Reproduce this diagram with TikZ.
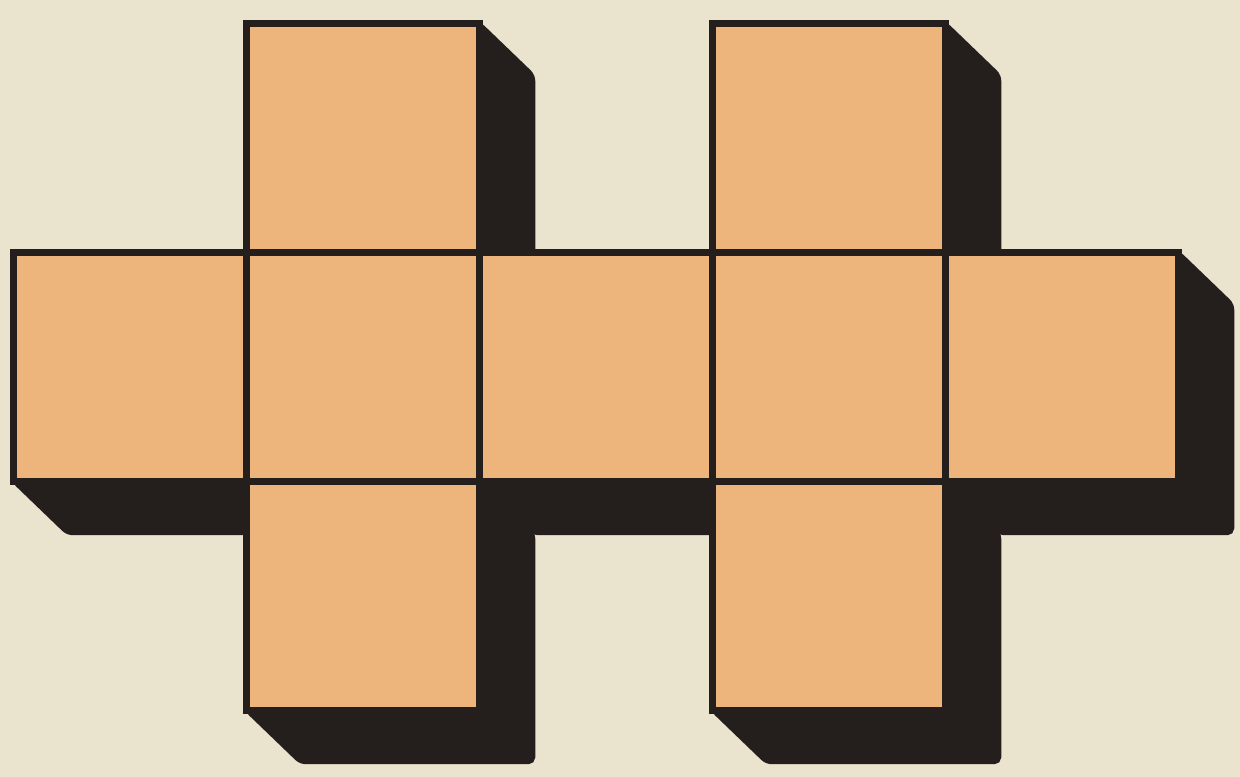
\documentclass[tikz,border=0pt]{standalone}
\usetikzlibrary{positioning,backgrounds}

\definecolor{paper}{RGB}{234,227,206}
\definecolor{card}{RGB}{237,181,124}
\definecolor{ink}{RGB}{36,31,28}

\begin{document}
\begin{tikzpicture}[
		face/.style={draw=ink, line width=2pt, fill=card, minimum width=2.33cm, minimum height=2.29cm, inner sep=0pt, outer sep=0pt},
		shade/.style={fill=ink, draw=ink, line width=1pt, rounded corners=1.5pt}
	]
	\useasboundingbox (0,0) rectangle (12.4,7.77);

	% middle strip
	\node[face] (m0) at (1.30,4.10) {};
	\node[face, right=0cm of m0] (m1) {};
	\node[face, right=0cm of m1] (m2) {};
	\node[face, right=0cm of m2] (m3) {};
	\node[face, right=0cm of m3] (m4) {};

	% flaps above and below
	\node[face, above=0cm of m1] (t1) {};
	\node[face, above=0cm of m3] (t3) {};
	\node[face, below=0cm of m1] (b1) {};
	\node[face, below=0cm of m3] (b3) {};

	\begin{pgfonlayer}{background}
		\fill[paper] (0,0) rectangle (12.4,7.77);
		\foreach \f in {m0,m1,m2,m3,m4,t1,t3,b1,b3}
			\filldraw[shade] (\f.north west) -- (\f.north east) -- ++(0.54,-0.52)
				-- ++(0,-2.29) -- ++(-2.33,0) -- (\f.south west) -- cycle;
	\end{pgfonlayer}
\end{tikzpicture}
\end{document}
